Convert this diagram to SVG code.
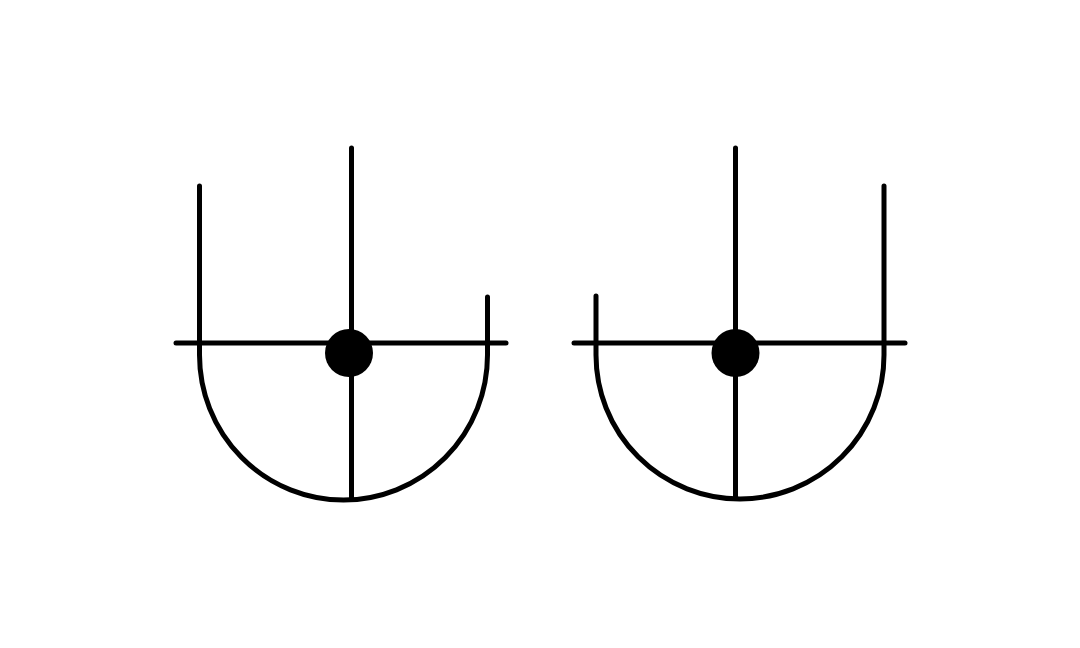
<svg xmlns="http://www.w3.org/2000/svg" width="1080" height="648" viewBox="0 0 1080 648">
<style>
.s{fill:none;stroke:#000;stroke-width:5;stroke-linecap:round;stroke-linejoin:round}
.d{fill:#000}
</style>
<rect width="1080" height="648" fill="#fff"/>
<g id="symbol-left">
<path class="s" d="M199.5,186 V355 A144,145 0 0 0 487.5,355 V297"/>
<path class="s" d="M176,343 H506"/>
<path class="s" d="M351.5,148 V498"/>
<circle class="d" cx="349" cy="353" r="24"/>
</g>
<g id="symbol-right">
<path class="s" d="M596,296 V355 A144,144 0 0 0 884,355 V186"/>
<path class="s" d="M574,343 H905"/>
<path class="s" d="M735.5,148 V498"/>
<circle class="d" cx="735.5" cy="353" r="24"/>
</g>
<g id="connectors"/>
</svg>
